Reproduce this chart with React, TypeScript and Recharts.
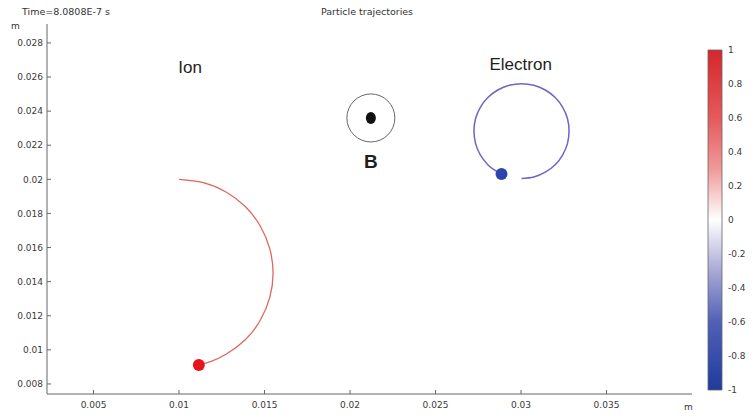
import { ComposedChart, Line, Scatter, XAxis, YAxis, BarChart, Bar } from 'recharts'

// axes (m)
const xDomain = [0.00228, 0.04]
const yDomain = [0.00741, 0.02911]
const xTicks = [0.005, 0.01, 0.015, 0.02, 0.025, 0.03, 0.035]
const yTicks = [0.008, 0.01, 0.012, 0.014, 0.016, 0.018, 0.02, 0.022, 0.024, 0.026, 0.028]

// trajectories
const ionPath = [
  { x: 0.01, y: 0.02 },
  { x: 0.01142, y: 0.01981 },
  { x: 0.01275, y: 0.01926 },
  { x: 0.01389, y: 0.01839 },
  { x: 0.01476, y: 0.01725 },
  { x: 0.01531, y: 0.01592 },
  { x: 0.0155, y: 0.0145 },
  { x: 0.01531, y: 0.01308 },
  { x: 0.01476, y: 0.01175 },
  { x: 0.01389, y: 0.01061 },
  { x: 0.01275, y: 0.00974 },
  { x: 0.01188, y: 0.00933 },
  { x: 0.01114, y: 0.00912 },
]
const electronPath = [
  { x: 0.03003, y: 0.02005 },
  { x: 0.03075, y: 0.02014 },
  { x: 0.03142, y: 0.02042 },
  { x: 0.032, y: 0.02086 },
  { x: 0.03244, y: 0.02144 },
  { x: 0.03272, y: 0.02211 },
  { x: 0.03281, y: 0.02283 },
  { x: 0.03272, y: 0.02355 },
  { x: 0.03244, y: 0.02422 },
  { x: 0.032, y: 0.0248 },
  { x: 0.03142, y: 0.02524 },
  { x: 0.03075, y: 0.02552 },
  { x: 0.03003, y: 0.02561 },
  { x: 0.02931, y: 0.02552 },
  { x: 0.02864, y: 0.02524 },
  { x: 0.02806, y: 0.0248 },
  { x: 0.02762, y: 0.02422 },
  { x: 0.02734, y: 0.02355 },
  { x: 0.02725, y: 0.02283 },
  { x: 0.02734, y: 0.02211 },
  { x: 0.02762, y: 0.02144 },
  { x: 0.02806, y: 0.02086 },
  { x: 0.02844, y: 0.02055 },
  { x: 0.02886, y: 0.02031 },
]
const particles = [
  { x: 0.01116, y: 0.00911, color: '#e5141b' },
  { x: 0.02886, y: 0.02031, color: '#2b45ae' },
]
const labels = [
  { x: 0.01065, y: 0.02653, text: 'Ion', bold: false },
  { x: 0.02998, y: 0.02671, text: 'Electron', bold: false },
  { x: 0.02122, y: 0.02103, text: 'B', bold: true },
]
const bField = [{ x: 0.02122, y: 0.0236 }]

// colour legend
const cbarTicks = [-1, -0.8, -0.6, -0.4, -0.2, 0, 0.2, 0.4, 0.6, 0.8, 1]
const cbarData = [{ name: 'c', range: [-1, 1] }]

const tickStyle = { fontSize: 9, fill: '#3a3a3a', fontFamily: 'DejaVu Sans' }
const axisColor = '#666'

const ParticleDot = (p: any) => <circle cx={p.cx} cy={p.cy} r={6} fill={p.payload.color} />

const LabelText = (p: any) => (
  <text x={p.cx} y={p.cy} textAnchor="middle" dominantBaseline="central"
    fontFamily="Liberation Sans, Arial, sans-serif" fontSize={p.payload.bold ? 19 : 17}
    fontWeight={p.payload.bold ? 'bold' : 'normal'} fill="#1e1e1e">
    {p.payload.text}
  </text>
)

const BSymbol = (p: any) => (
  <g>
    <circle cx={p.cx} cy={p.cy} r={24} fill="none" stroke="#666" strokeWidth={1} />
    <ellipse cx={p.cx} cy={p.cy} rx={5} ry={6} fill="#111" />
  </g>
)

const header = { position: 'absolute' as const, fontFamily: 'DejaVu Sans, sans-serif', fontSize: 9.5, color: '#333', lineHeight: '12px', whiteSpace: 'nowrap' as const }

export default function App() {
  return (
    <div style={{ position: 'absolute', left: 0, top: 0, width: 756, height: 417, background: '#fff', overflow: 'hidden' }}>
      <div style={{ ...header, left: 22, top: 6 }}>Time=8.0808E-7 s</div>
      <div style={{ ...header, left: 367, top: 6, transform: 'translateX(-50%)' }}>Particle trajectories</div>
      <div style={{ ...header, left: 11, top: 20, fontSize: 9 }}>m</div>
      <div style={{ ...header, left: 684, top: 401, fontSize: 9 }}>m</div>

      <div style={{ position: 'absolute', left: 0, top: 0 }}>
        <ComposedChart width={756} height={417} margin={{ top: 24, right: 64, bottom: 0, left: 7 }}>
          <XAxis xAxisId={0} dataKey="x" type="number" domain={xDomain} ticks={xTicks} interval={0}
            allowDataOverflow height={23} tick={tickStyle} tickSize={-4} tickMargin={12}
            axisLine={{ stroke: axisColor }} tickLine={{ stroke: axisColor }} />
          <XAxis xAxisId="top" orientation="top" dataKey="x" type="number" domain={xDomain} ticks={xTicks}
            interval={0} allowDataOverflow height={0} tick={false} tickSize={-4}
            axisLine={{ stroke: axisColor }} tickLine={{ stroke: axisColor }} />
          <YAxis yAxisId={0} dataKey="y" type="number" domain={yDomain} ticks={yTicks} interval={0}
            allowDataOverflow width={40} tick={tickStyle} tickSize={-4} tickMargin={8}
            axisLine={{ stroke: axisColor }} tickLine={{ stroke: axisColor }} />
          <YAxis yAxisId="right" orientation="right" dataKey="y" type="number" domain={yDomain} ticks={yTicks}
            interval={0} allowDataOverflow width={0} tick={false} tickSize={-4}
            axisLine={{ stroke: axisColor }} tickLine={{ stroke: axisColor }} />

          <Line data={ionPath} dataKey="y" type="natural" stroke="#e0675f" strokeWidth={1.3}
            dot={false} activeDot={false} isAnimationActive={false} />
          <Line data={electronPath} dataKey="y" type="natural" stroke="#7463c4" strokeWidth={1.5}
            dot={false} activeDot={false} isAnimationActive={false} />
          <Scatter data={bField} dataKey="y" shape={BSymbol} isAnimationActive={false} />
          <Scatter data={particles} dataKey="y" shape={ParticleDot} isAnimationActive={false} />
          <Scatter data={labels} dataKey="y" shape={LabelText} isAnimationActive={false} />
        </ComposedChart>
      </div>

      <div style={{ position: 'absolute', left: 700, top: 0 }}>
        <BarChart width={60} height={417} data={cbarData} margin={{ top: 50, right: 0, bottom: 27, left: 2 }}>
          <defs>
            <linearGradient id="cbarGrad" x1="0" y1="0" x2="0" y2="1">
              <stop offset="0%" stopColor="#d6262b" />
              <stop offset="20%" stopColor="#e45a5c" />
              <stop offset="35%" stopColor="#ef9a9a" />
              <stop offset="50%" stopColor="#ffffff" />
              <stop offset="65%" stopColor="#a8a8d6" />
              <stop offset="80%" stopColor="#5061b6" />
              <stop offset="100%" stopColor="#1f3b9e" />
            </linearGradient>
          </defs>
          <XAxis dataKey="name" hide />
          <YAxis orientation="right" type="number" domain={[-1, 1]} ticks={cbarTicks} interval={0}
            width={32} axisLine={false} tickLine={false} tickSize={0} tickMargin={0}
            tick={{ ...tickStyle, textAnchor: 'start' }} />
          <Bar dataKey="range" barSize={14} fill="url(#cbarGrad)" stroke="#666" strokeWidth={0.8}
            isAnimationActive={false} />
        </BarChart>
      </div>
    </div>
  )
}
